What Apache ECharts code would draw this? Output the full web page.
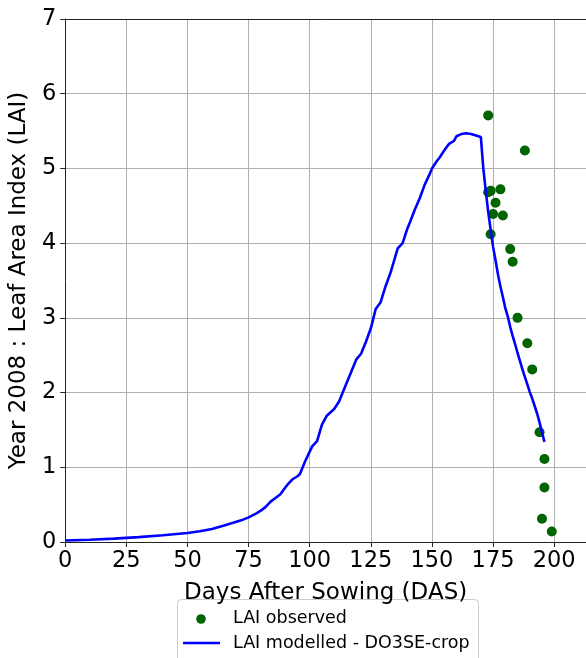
<!DOCTYPE html>
<html>
<head>
<meta charset="utf-8">
<script src="https://cdn.jsdelivr.net/npm/echarts@6/dist/echarts.min.js"></script>
<style>
  html, body { margin: 0; padding: 0; background: #fff; }
  #chart { width: 586px; height: 658px; }
</style>
</head>
<body>
<div id="chart"></div>
<script>
// Observed leaf area index (days after sowing, LAI)
const obsDays = [173, 188, 173, 174, 178, 176, 175, 179, 174, 182, 183, 185, 189, 191, 194, 196, 196, 195, 199];
const obsLAI  = [5.71, 5.24, 4.68, 4.70, 4.72, 4.54, 4.39, 4.37, 4.12, 3.92, 3.75, 3.00, 2.66, 2.31, 1.47, 1.11, 0.73, 0.31, 0.14];

// Modelled LAI (DO3SE-crop)
const modDays = [0, 10, 20, 30, 40, 50, 55, 60, 65, 68, 72, 75, 78, 80, 82, 84, 86, 88, 90, 91, 93, 95, 96, 98, 101, 103, 105, 107, 110, 112, 115, 117, 119, 121, 123, 125, 127, 129, 131, 133, 135, 136, 138, 140, 141, 143, 145, 147, 149, 150, 152, 153, 155, 157, 159, 160, 162, 164, 166, 170,
  171, 172, 173, 174, 175, 176, 177, 178, 179, 180, 181, 182, 183, 184, 185, 186, 187, 188, 189, 190, 191, 192, 193, 194, 195, 196];
const modLAI  = [0.02, 0.03, 0.045, 0.065, 0.09, 0.12, 0.145, 0.175, 0.22, 0.25, 0.29, 0.33, 0.38, 0.42, 0.47, 0.54, 0.59, 0.64, 0.73, 0.77, 0.84, 0.88, 0.91, 1.07, 1.28, 1.35, 1.57, 1.69, 1.78, 1.88, 2.12, 2.28, 2.44, 2.52, 2.68, 2.86, 3.12, 3.21, 3.42, 3.60, 3.82, 3.93, 4.00, 4.20, 4.28, 4.45, 4.60, 4.78, 4.92, 5.00, 5.10, 5.14, 5.24, 5.33, 5.37, 5.43, 5.46, 5.47, 5.46, 5.42,
  5.00, 4.70, 4.42, 4.18, 3.95, 3.77, 3.58, 3.42, 3.28, 3.13, 3.02, 2.88, 2.76, 2.65, 2.53, 2.42, 2.31, 2.21, 2.11, 2.01, 1.92, 1.82, 1.72, 1.60, 1.47, 1.34];

const xTicks = [0, 25, 50, 75, 100, 125, 150, 175, 200];
const yTicks = [0, 1, 2, 3, 4, 5, 6, 7];

const seriesNames = ['LAI observed', 'LAI modelled - DO3SE-crop'];
const obsColor = '#006400';
const modColor = '#0000ff';

const font = 'DejaVu Sans';
const obsPoints = obsDays.map((d, i) => [d, obsLAI[i]]);
const modPoints = modDays.map((d, i) => [d, modLAI[i]]);

const axisColor = '#222';
const gridColor = '#b0b0b0';

const chart = echarts.init(document.getElementById('chart'), null, { renderer: 'canvas' });
chart.setOption({
  animation: false,
  backgroundColor: '#fff',
  grid: { left: 64, top: 19, right: 0, bottom: 116 },
  xAxis: [
    {
      type: 'value', min: 0, max: 213, interval: 25,
      name: 'Days After Sowing (DAS)', nameLocation: 'middle', nameGap: 40,
      nameTextStyle: { fontFamily: font, fontSize: 23, color: '#000' },
      axisLine: { show: true, lineStyle: { color: axisColor, width: 1 } },
      axisTick: { show: true, length: 5, lineStyle: { color: axisColor } },
      axisLabel: {
        fontFamily: font, fontSize: 22.5, color: '#000', margin: 8,
        showMaxLabel: false,
        formatter: v => (xTicks.indexOf(v) >= 0 ? String(v) : '')
      },
      splitLine: { show: true, lineStyle: { color: gridColor, width: 1 } }
    },
    {
      // top frame line of the plot area
      type: 'value', position: 'top', min: 0, max: 213,
      axisLine: { show: true, lineStyle: { color: axisColor, width: 1 } },
      axisTick: { show: false }, axisLabel: { show: false }, splitLine: { show: false }
    }
  ],
  yAxis: {
    type: 'value', min: 0, max: 7, interval: 1,
    name: 'Year 2008 : Leaf Area Index (LAI)', nameLocation: 'middle', nameGap: 25,
    nameTextStyle: { fontFamily: font, fontSize: 23, color: '#000' },
    axisLine: { show: true, lineStyle: { color: axisColor, width: 1 } },
    axisTick: { show: true, length: 5, lineStyle: { color: axisColor } },
    axisLabel: {
      fontFamily: font, fontSize: 22.5, color: '#000', margin: 9,
      formatter: v => (yTicks.indexOf(v) >= 0 ? String(v) : '')
    },
    splitLine: { show: true, lineStyle: { color: gridColor, width: 1 } }
  },
  // legend box below the axis title
  graphic: [
    {
      type: 'group', left: 177, top: 599,
      children: [
        { type: 'rect', shape: { x: 0.5, y: 0.5, width: 301, height: 70, r: 4 },
          style: { fill: '#fff', stroke: '#cccccc', lineWidth: 1 } },
        { type: 'circle', shape: { cx: 24, cy: 20, r: 4.8 }, style: { fill: obsColor } },
        { type: 'text', x: 56, y: 19,
          style: { text: seriesNames[0], font: '17.5px "' + font + '"', fill: '#000', verticalAlign: 'middle' } },
        { type: 'line', shape: { x1: 6, y1: 44, x2: 43, y2: 44 }, style: { stroke: modColor, lineWidth: 2.6 } },
        { type: 'text', x: 56, y: 44,
          style: { text: seriesNames[1], font: '17.5px "' + font + '"', fill: '#000', verticalAlign: 'middle' } }
      ]
    }
  ],
  series: [
    {
      name: seriesNames[0],
      type: 'scatter',
      data: obsPoints,
      symbol: 'circle',
      symbolSize: 10,
      itemStyle: { color: obsColor, opacity: 1 },
      z: 2
    },
    {
      name: seriesNames[1],
      type: 'line',
      data: modPoints,
      symbol: 'none',
      lineStyle: { color: modColor, width: 2.6 },
      z: 3
    }
  ]
});
</script>
</body>
</html>
